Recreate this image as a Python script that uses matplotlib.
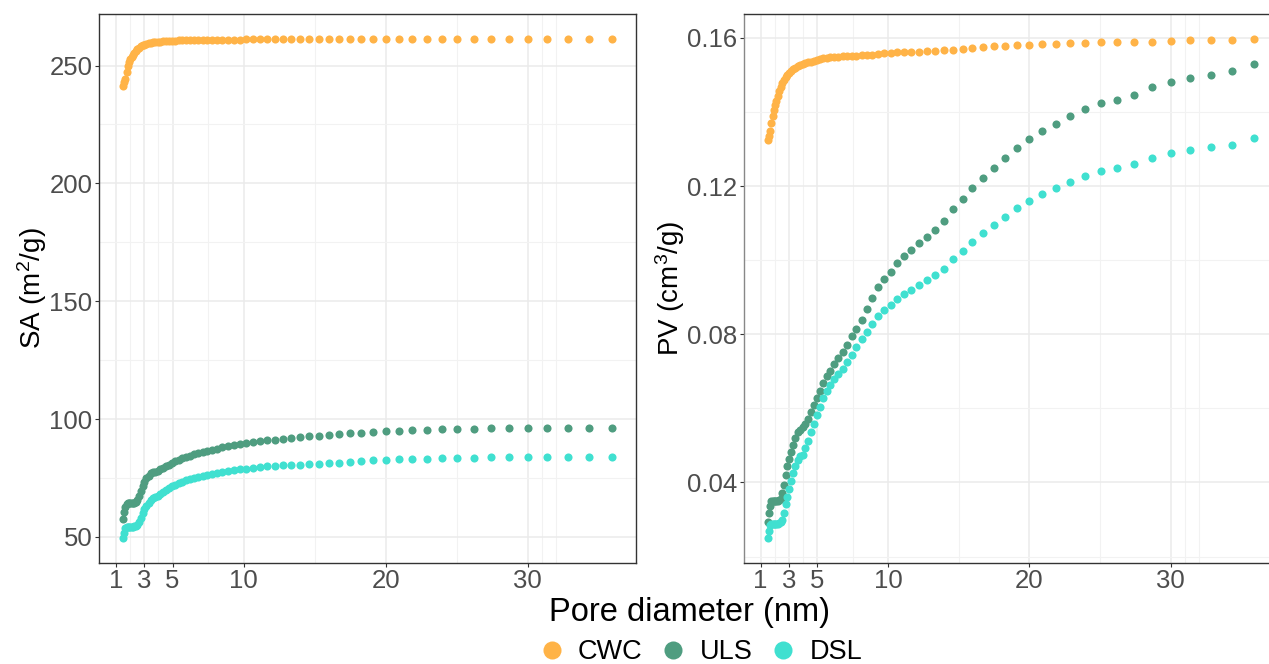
#!/usr/bin/env python3
"""Cumulative surface area and pore volume vs pore diameter for CWC, ULS and DSL."""

import matplotlib
matplotlib.use("Agg")
import matplotlib.pyplot as plt
from matplotlib.lines import Line2D

plt.rcParams["font.family"] = ["Liberation Sans", "DejaVu Sans"]
plt.rcParams["mathtext.fontset"] = "custom"
plt.rcParams["mathtext.rm"] = "Liberation Sans"
plt.rcParams["mathtext.default"] = "regular"

# pore diameter (nm)
diameter = [1.540, 1.611, 1.685, 1.762, 1.843, 1.928, 2.017, 2.110, 2.207, 2.308,
            2.415, 2.526, 2.642, 2.764, 2.891, 3.024, 3.163, 3.309, 3.461, 3.620,
            3.787, 3.961, 4.143, 4.334, 4.533, 4.742, 4.960, 5.188, 5.427, 5.677,
            5.938, 6.212, 6.497, 6.796, 7.109, 7.436, 7.778, 8.136, 8.510, 8.902,
            9.311, 9.742, 10.191, 10.659, 11.150, 11.663, 12.199, 12.760, 13.347, 13.961,
            14.604, 15.278, 15.981, 16.716, 17.485, 18.289, 19.130, 20.010, 20.931, 21.894,
            22.901, 23.959, 25.061, 26.214, 27.420, 28.681, 30.000, 31.380, 32.824, 34.334,
            35.913]

# cumulative surface area (m2/g)
sa_cwc = [241.5, 242.9, 244.1, 247.2, 250.0, 251.4, 252.6, 253.6, 254.6, 255.5,
          256.3, 257.0, 257.6, 258.1, 258.6, 258.9, 259.2, 259.4, 259.6, 259.8,
          259.9, 260.1, 260.2, 260.3, 260.4, 260.5, 260.6, 260.6, 260.7, 260.7,
          260.8, 260.8, 260.8, 260.9, 260.9, 260.9, 260.9, 261.0, 261.0, 261.0,
          261.0, 261.0, 261.1, 261.1, 261.1, 261.1, 261.1, 261.1, 261.2, 261.2,
          261.2, 261.2, 261.2, 261.2, 261.2, 261.2, 261.2, 261.3, 261.3, 261.3,
          261.3, 261.3, 261.3, 261.3, 261.3, 261.3, 261.3, 261.3, 261.3, 261.3,
          261.3]
sa_uls = [57.6, 60.4, 62.7, 64.0, 64.2, 64.2, 64.2, 64.2, 64.3, 64.4,
          64.8, 65.8, 67.5, 69.5, 71.5, 73.2, 74.8, 76.0, 76.9, 77.4,
          77.7, 78.0, 78.6, 79.3, 80.0, 80.7, 81.4, 82.1, 82.8, 83.5,
          84.0, 84.5, 85.0, 85.5, 86.0, 86.5, 87.0, 87.5, 88.0, 88.5,
          89.0, 89.5, 89.9, 90.3, 90.7, 91.0, 91.3, 91.6, 91.9, 92.3,
          92.7, 93.0, 93.3, 93.6, 93.9, 94.2, 94.5, 94.8, 95.0, 95.2,
          95.4, 95.6, 95.8, 95.9, 96.0, 96.1, 96.2, 96.3, 96.3, 96.4,
          96.4]
sa_dsl = [49.5, 51.7, 53.8, 54.2, 54.2, 54.2, 54.2, 54.2, 54.3, 54.4,
          54.6, 55.2, 56.3, 58.0, 60.0, 61.8, 63.3, 64.5, 65.6, 66.3,
          66.8, 67.2, 68.0, 68.9, 69.8, 70.6, 71.4, 72.1, 72.8, 73.4,
          74.0, 74.5, 75.0, 75.4, 75.8, 76.2, 76.7, 77.1, 77.5, 77.9,
          78.3, 78.7, 79.0, 79.3, 79.6, 79.9, 80.1, 80.3, 80.5, 80.7,
          80.9, 81.1, 81.3, 81.5, 81.8, 82.2, 82.5, 82.8, 82.9, 83.0,
          83.2, 83.4, 83.5, 83.6, 83.7, 83.8, 83.8, 83.9, 83.9, 84.0,
          84.1]

# cumulative pore volume (cm3/g)
pv_cwc = [0.1325, 0.1336, 0.1348, 0.1370, 0.1390, 0.1405, 0.1418, 0.1430, 0.1444, 0.1456,
          0.1467, 0.1477, 0.1486, 0.1494, 0.1500, 0.1506, 0.1511, 0.1515, 0.1519, 0.1523,
          0.1526, 0.1529, 0.1531, 0.1534, 0.1536, 0.1538, 0.1541, 0.1543, 0.1545, 0.1546,
          0.1547, 0.1548, 0.1549, 0.1550, 0.1550, 0.1551, 0.1552, 0.1553, 0.1554, 0.1555,
          0.1557, 0.1558, 0.1560, 0.1561, 0.1561, 0.1562, 0.1563, 0.1564, 0.1565, 0.1566,
          0.1567, 0.1570, 0.1572, 0.1575, 0.1577, 0.1578, 0.1580, 0.1581, 0.1583, 0.1584,
          0.1586, 0.1587, 0.1588, 0.1588, 0.1589, 0.1590, 0.1592, 0.1593, 0.1594, 0.1595,
          0.1597]
pv_uls = [0.0292, 0.0317, 0.0337, 0.0349, 0.0351, 0.0351, 0.0351, 0.0351, 0.0351, 0.0352,
          0.0355, 0.0372, 0.0394, 0.0421, 0.0445, 0.0463, 0.0483, 0.0502, 0.0520, 0.0535,
          0.0542, 0.0550, 0.0558, 0.0571, 0.0589, 0.0609, 0.0627, 0.0648, 0.0668, 0.0686,
          0.0700, 0.0721, 0.0735, 0.0752, 0.0772, 0.0794, 0.0815, 0.0839, 0.0868, 0.0899,
          0.0927, 0.0948, 0.0968, 0.0992, 0.1010, 0.1027, 0.1045, 0.1063, 0.1081, 0.1106,
          0.1138, 0.1166, 0.1194, 0.1222, 0.1249, 0.1277, 0.1303, 0.1328, 0.1348, 0.1368,
          0.1388, 0.1409, 0.1423, 0.1433, 0.1447, 0.1467, 0.1482, 0.1491, 0.1501, 0.1510,
          0.1530]
pv_dsl = [0.0250, 0.0270, 0.0286, 0.0288, 0.0288, 0.0288, 0.0288, 0.0288, 0.0289, 0.0290,
          0.0293, 0.0300, 0.0317, 0.0342, 0.0362, 0.0382, 0.0403, 0.0425, 0.0445, 0.0461,
          0.0472, 0.0475, 0.0492, 0.0512, 0.0536, 0.0559, 0.0582, 0.0605, 0.0627, 0.0647,
          0.0663, 0.0680, 0.0693, 0.0707, 0.0726, 0.0745, 0.0765, 0.0787, 0.0807, 0.0829,
          0.0849, 0.0865, 0.0878, 0.0895, 0.0908, 0.0920, 0.0933, 0.0947, 0.0959, 0.0977,
          0.1002, 0.1026, 0.1049, 0.1072, 0.1095, 0.1117, 0.1141, 0.1160, 0.1178, 0.1194,
          0.1211, 0.1227, 0.1240, 0.1248, 0.1260, 0.1276, 0.1288, 0.1296, 0.1305, 0.1312,
          0.1329]

samples = ["CWC", "ULS", "DSL"]
colors = {"CWC": "#FFB347", "ULS": "#4F9D80", "DSL": "#40E0D0"}

x_ticks = [1, 3, 5, 10, 20, 30]
x_minor = [2, 4, 7.5, 15, 25, 31, 32]
sa_ticks = [50, 100, 150, 200, 250]
sa_minor = [75, 125, 175, 225]
pv_ticks = [0.04, 0.08, 0.12, 0.16]
pv_minor = [0.02, 0.06, 0.10, 0.14]

W, H = 1269, 664
fig = plt.figure(figsize=(W / 100, H / 100), dpi=100)


def box(x0, x1, top, bottom):
    return [x0 / W, 1 - bottom / H, (x1 - x0) / W, (bottom - top) / H]


ax_sa = fig.add_axes(box(99, 636, 14, 563))
ax_pv = fig.add_axes(box(744, 1278.5, 14, 563))


def style(ax, yticks, yminor, ylabels, left_color):
    ax.set_xticks(x_ticks)
    ax.set_xticks(x_minor, minor=True)
    ax.set_yticks(yticks)
    ax.set_yticks(yminor, minor=True)
    ax.set_yticklabels(ylabels)
    ax.grid(which="major", color="#EBEBEB", linewidth=1.1)
    ax.grid(which="minor", color="#F2F2F2", linewidth=0.8)
    ax.set_axisbelow(True)
    ax.tick_params(which="major", length=2.7, width=0.8, color="#333333",
                   labelsize=18.5, labelcolor="#4D4D4D", pad=2)
    ax.tick_params(axis="x", which="major", pad=1.5)
    ax.tick_params(which="minor", length=0)
    for sp in ax.spines.values():
        sp.set_color("#333333")
        sp.set_linewidth(1.0)
    ax.spines["left"].set_color(left_color)
    ax.margins(x=0.05, y=0.05)


sa_series = {"CWC": sa_cwc, "ULS": sa_uls, "DSL": sa_dsl}
pv_series = {"CWC": pv_cwc, "ULS": pv_uls, "DSL": pv_dsl}
for s in samples:
    ax_sa.scatter(diameter, sa_series[s], s=34, color=colors[s], linewidths=0, zorder=3)
    ax_pv.scatter(diameter, pv_series[s], s=34, color=colors[s], linewidths=0, zorder=3)

style(ax_sa, sa_ticks, sa_minor, [str(t) for t in sa_ticks], "#333333")
style(ax_pv, pv_ticks, pv_minor, [f"{t:.2f}" for t in pv_ticks], "#888888")

ax_sa.set_ylabel(r"SA (m$^{2}$/g)", fontsize=20, color="black", labelpad=0.5)
ax_pv.set_ylabel(r"PV (cm$^{3}$/g)", fontsize=20, color="black", labelpad=0.5)

fig.text(689.5 / W, 1 - 621 / H, "Pore diameter (nm)", fontsize=23.5,
         ha="center", va="baseline")

handles = [Line2D([], [], linestyle="none", marker="o", markersize=13,
                  markerfacecolor=colors[s], markeredgewidth=0, label=s)
           for s in samples]
fig.legend(handles=handles, loc="center", bbox_to_anchor=(700 / W, 1 - 652 / H),
           ncol=3, frameon=False, fontsize=19.5, handlelength=1.0,
           handletextpad=0.48, columnspacing=0.62, borderaxespad=0)

fig.savefig("out.png", dpi=100)
